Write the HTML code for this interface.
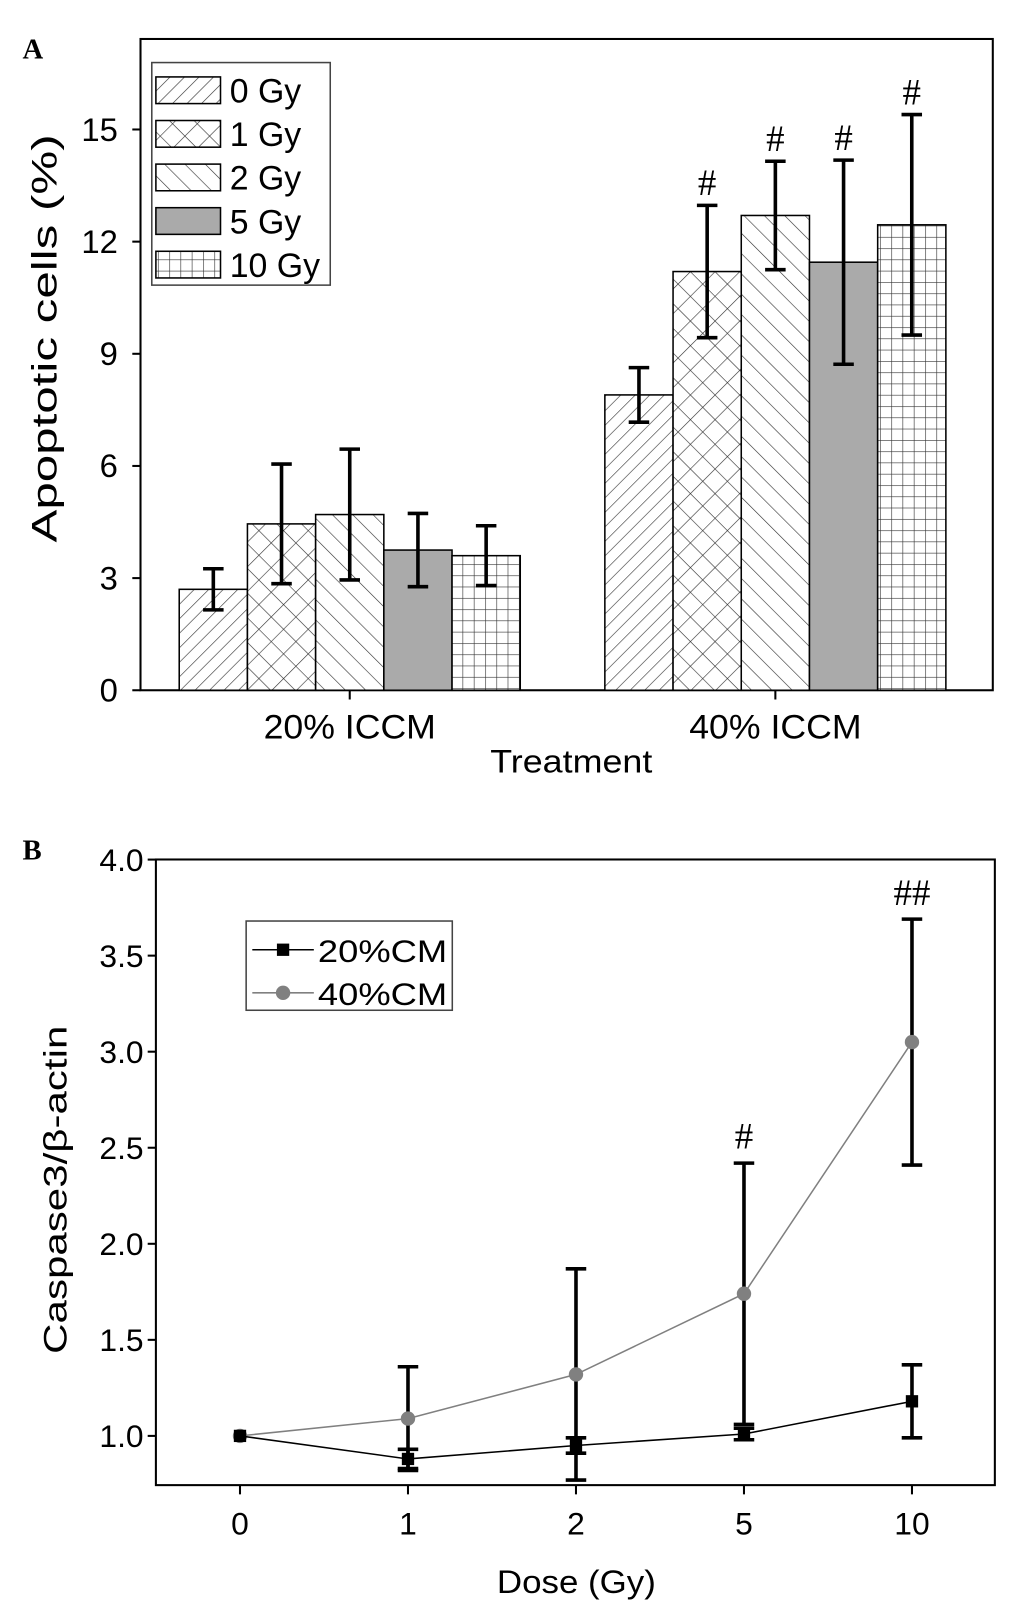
<!DOCTYPE html>
<html><head><meta charset="utf-8"><style>
html,body{margin:0;padding:0;background:#fff;}
svg{display:block;font-family:"Liberation Sans",sans-serif;}
</style></head><body>
<svg id="fig" width="1033" height="1608" viewBox="0 0 1007.2 1567.8" preserveAspectRatio="none">
<defs>
<pattern id="p0" width="10" height="10" patternUnits="userSpaceOnUse" patternTransform="rotate(45)"><rect width="10" height="10" fill="#fff"/><line x1="0" y1="0" x2="0" y2="10" stroke="#333" stroke-width="1.2"/></pattern>
<pattern id="p1" width="17" height="17" patternUnits="userSpaceOnUse" patternTransform="rotate(45)"><rect width="17" height="17" fill="#fff"/><line x1="0" y1="0" x2="0" y2="17" stroke="#333" stroke-width="1.2"/><line x1="0" y1="0" x2="17" y2="0" stroke="#333" stroke-width="1.2"/></pattern>
<pattern id="p2" width="14" height="14" patternUnits="userSpaceOnUse" patternTransform="rotate(-45)"><rect width="14" height="14" fill="#fff"/><line x1="0" y1="0" x2="0" y2="14" stroke="#333" stroke-width="1.2"/></pattern>
<pattern id="p4" width="11" height="11" patternUnits="userSpaceOnUse"><rect width="11" height="11" fill="#fff"/><line x1="0" y1="0" x2="0" y2="11" stroke="#333" stroke-width="1.2"/><line x1="0" y1="0" x2="11" y2="0" stroke="#333" stroke-width="1.2"/></pattern>
</defs>
<text x="22" y="57" font-family="Liberation Serif,serif" font-weight="bold" font-size="28">A</text>
<text x="22" y="838" font-family="Liberation Serif,serif" font-weight="bold" font-size="28">B</text>
<g id="A"></g>
<g id="B"></g>
</svg>
<script>
// Panel A data
const aGroups = ["20% ICCM","40% ICCM"];
const aSeries = ["0 Gy","1 Gy","2 Gy","5 Gy","10 Gy"];
const aVals20 = [2.7,4.45,4.7,3.75,3.6];
const aVals40 = [7.9,11.2,12.7,11.45,12.45];
const aErr20 = [0.55,1.6,1.75,0.98,0.8];
const aErr40 = [0.73,1.77,1.45,2.73,2.95];
const aSig40 = ["","#","#","#","#"];
const aTicks = [0,3,6,9,12,15];
// Panel B data
const bDoses = ["0","1","2","5","10"];
const b20 = [1.0,0.88,0.95,1.01,1.18];
const b20err = [0,0.05,0.04,0.03,0.19];
const b40 = [1.0,1.09,1.32,1.74,3.05];
const b40err = [0,0.27,0.55,0.68,0.64];
const bSig = ["","","","#","##"];
const bTicks = [1.0,1.5,2.0,2.5,3.0,3.5,4.0];

const NS="http://www.w3.org/2000/svg";
function mk(parent,tag,attrs,text){const e=document.createElementNS(NS,tag);for(const k in attrs)e.setAttribute(k,attrs[k]);if(text!==undefined)e.textContent=text;parent.appendChild(e);return e;}

// ---- Panel A ----
const A=document.getElementById('A');
const aL=137,aR=968,aT=38,aB=673;
const ay=v=>aB-v*36.45;
const fills=["url(#p0)","url(#p1)","url(#p2)","#aaaaaa","url(#p4)"];
const groupCenters=[341,756], bw=66.5;
const ax=(g,i)=>groupCenters[g]-2.5*bw+i*bw;
let e=mk(A,'rect',{x:aL,y:aT,width:aR-aL,height:aB-aT,fill:'none',stroke:'#000','stroke-width':2});


aTicks.forEach(t=>{
  let l=mk(A,'line',{x1:aL-8,x2:aL,y1:ay(t),y2:ay(t),stroke:'#000','stroke-width':2});
  
  
  let tx=mk(A,'text',{x:aL-22,y:ay(t)+11,'text-anchor':'end','font-size':32},String(t));
  
  
});
[aVals20,aVals40].forEach((vals,g)=>{
  const errs=g?aErr40:aErr20;
  let tk=mk(A,'line',{x1:groupCenters[g],x2:groupCenters[g],y1:aB,y2:aB+9,stroke:'#000','stroke-width':2});
  
  
  let gl=mk(A,'text',{x:groupCenters[g],y:720,'text-anchor':'middle','font-size':33,textLength:168,lengthAdjust:'spacingAndGlyphs'},aGroups[g]);
  
  
  vals.forEach((v,i)=>{
    const x=ax(g,i);
    let r=mk(A,'rect',{x:x,y:ay(v),width:bw,height:aB-ay(v),fill:fills[i],stroke:'#000','stroke-width':1.5});
    
    
    const cx=x+bw/2,hi=ay(v+errs[i]),lo=ay(v-errs[i]);
    let eb=mk(A,'path',{d:`M${cx},${hi}V${lo}M${cx-10},${hi}h20M${cx-10},${lo}h20`,stroke:'#000','stroke-width':3.5,fill:'none'});
    
    
    if(g&&aSig40[i]){let s=mk(A,'text',{x:cx,y:hi-10,'text-anchor':'middle','font-size':36,'font-family':'Liberation Serif,serif'},aSig40[i]);
      
      }
  });
});
e=mk(A,'text',{x:557,y:753,'text-anchor':'middle','font-size':32,textLength:158,lengthAdjust:'spacingAndGlyphs'},'Treatment');


e=mk(A,'text',{x:0,y:0,'text-anchor':'middle','font-size':34,textLength:398,lengthAdjust:'spacingAndGlyphs',transform:'translate(55,330) rotate(-90)'},'Apoptotic cells (%)');


let lg=mk(A,'g',{});


mk(lg,'rect',{x:148,y:61,width:174,height:217,fill:'#fff',stroke:'#444','stroke-width':1.5});
aSeries.forEach((s,i)=>{
  const yy=88+i*42.5;
  let sw=mk(lg,'rect',{x:152,y:yy-13,width:63,height:26,fill:fills[i],stroke:'#000','stroke-width':1.5});
  
  
  let t=mk(lg,'text',{x:224,y:yy+12,'font-size':33},s);
  
  
});

// ---- Panel B ----
const B=document.getElementById('B');
const bL=152,bR=970,bT=838,bBot=1448;
const by=v=>1400-(v-1)*187.3;
const bx=i=>234+i*163.8;
e=mk(B,'rect',{x:bL,y:bT,width:bR-bL,height:bBot-bT,fill:'none',stroke:'#000','stroke-width':2});


bTicks.forEach(t=>{
  let l=mk(B,'line',{x1:bL-8,x2:bL,y1:by(t),y2:by(t),stroke:'#000','stroke-width':2});
  
  
  let tx=mk(B,'text',{x:bL-12,y:by(t)+11,'text-anchor':'end','font-size':31},t.toFixed(1));
  
  
});
bDoses.forEach((d,i)=>{
  let l=mk(B,'line',{x1:bx(i),x2:bx(i),y1:bBot,y2:bBot+9,stroke:'#000','stroke-width':2});
  
  
  let tx=mk(B,'text',{x:bx(i),y:1496,'text-anchor':'middle','font-size':31},d);
  
  
});
function series(vals,errs,color,marker,name){
  let p=mk(B,'polyline',{points:vals.map((v,i)=>bx(i)+','+by(v)).join(' '),fill:'none',stroke:color,'stroke-width':1.5});
  
  
  vals.forEach((v,i)=>{
    if(errs[i]>0){const hi=by(v+errs[i]),lo=by(v-errs[i]),cx=bx(i);
      let eb=mk(B,'path',{d:`M${cx},${hi}V${lo}M${cx-10},${hi}h20M${cx-10},${lo}h20`,stroke:'#000','stroke-width':3.5,fill:'none'});
      
      }
  });
  vals.forEach((v,i)=>{
    let m= marker==='sq'? mk(B,'rect',{x:bx(i)-6,y:by(v)-6,width:12,height:12,fill:color}) : mk(B,'circle',{cx:bx(i),cy:by(v),r:7,fill:color});
    
    
  });
}
series(b40,b40err,'#808080','ci','cm40');
series(b20,b20err,'#000','sq','cm20');
bSig.forEach((s,i)=>{ if(s){let t=mk(B,'text',{x:bx(i),y:by(b40[i]+b40err[i])-14,'text-anchor':'middle','font-size':36,'font-family':'Liberation Serif,serif'},s);
  
  }});
let lb=mk(B,'g',{});


mk(lb,'rect',{x:240,y:898,width:201,height:87,fill:'#fff',stroke:'#444','stroke-width':1.5});
mk(lb,'line',{x1:246,x2:306,y1:926,y2:926,stroke:'#000','stroke-width':1.5});
mk(lb,'rect',{x:270,y:920,width:12,height:12,fill:'#000'});
mk(lb,'line',{x1:246,x2:306,y1:968,y2:968,stroke:'#808080','stroke-width':1.5});
mk(lb,'circle',{cx:276,cy:968,r:7,fill:'#808080'});
e=mk(lb,'text',{x:310,y:938,'font-size':31,textLength:126,lengthAdjust:'spacingAndGlyphs'},'20%CM');


e=mk(lb,'text',{x:310,y:980,'font-size':31,textLength:126,lengthAdjust:'spacingAndGlyphs'},'40%CM');


e=mk(B,'text',{x:562,y:1553,'text-anchor':'middle','font-size':32,textLength:155,lengthAdjust:'spacingAndGlyphs'},'Dose (Gy)');


e=mk(B,'text',{x:0,y:0,'text-anchor':'middle','font-size':32,textLength:320,lengthAdjust:'spacingAndGlyphs',transform:'translate(65,1160) rotate(-90)'},'Caspase3/β-actin');


</script>
</body></html>
